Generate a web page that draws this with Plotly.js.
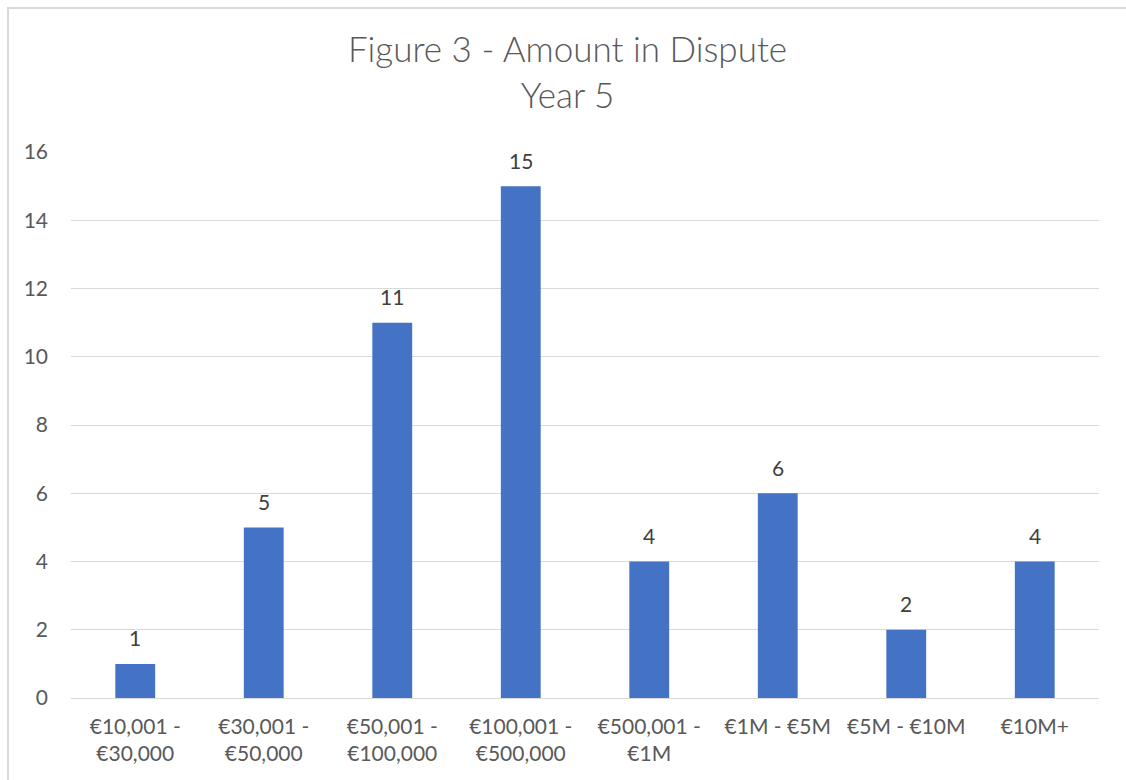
<!DOCTYPE html>
<html>
<head>
<meta charset="utf-8">
<script src="https://cdn.plot.ly/plotly-3.0.1.min.js"></script>
<style>
  html, body { margin: 0; padding: 0; width: 1126px; height: 780px; overflow: hidden; background: #fff; }
  #frame { position: absolute; left: 7px; top: 7px; width: 1140px; height: 800px;
           border-left: 2px solid #d9d9d9; border-top: 2px solid #d9d9d9; }
  #chart { position: absolute; left: 0; top: 0; width: 1126px; height: 780px; }
</style>
</head>
<body>
<div id="frame"></div>
<div id="chart"></div>
<script>
const categories = ['€10,001 -<br>€30,000', '€30,001 -<br>€50,000', '€50,001 -<br>€100,000',
                    '€100,001 -<br>€500,000', '€500,001 -<br>€1M', '€1M - €5M', '€5M - €10M', '€10M+'];
const counts = [1, 5, 11, 15, 4, 6, 2, 4];
const yTicks = [0, 2, 4, 6, 8, 10, 12, 14, 16];

const FONT = 'Lato, "Open Sans", sans-serif';

const trace = {
  type: 'bar',
  x: categories,
  y: counts,
  marker: { color: '#4472C4' },
  hoverinfo: 'x+y'
};

const annotations = categories.map((c, i) => ({
  x: c, y: counts[i], xref: 'x', yref: 'y',
  text: String(counts[i]), showarrow: false,
  yanchor: 'middle', yshift: 26,
  font: { family: FONT, size: 21, color: '#404040' }
}));

const layout = {
  width: 1126, height: 780,
  margin: { l: 71, r: 27, t: 152, b: 82 },
  paper_bgcolor: 'rgba(0,0,0,0)',
  plot_bgcolor: 'rgba(0,0,0,0)',
  bargap: 0.69,
  showlegend: false,
  title: {
    text: 'Figure 3 - Amount in Dispute<br>Year 5',
    x: 0.504, xanchor: 'center',
    y: 0.92, yanchor: 'middle',
    font: { family: FONT, size: 35, color: '#595959', weight: 300 }
  },
  xaxis: {
    type: 'category',
    showgrid: false, zeroline: false, showline: false,
    ticks: '', ticklabelstandoff: 14,
    tickfont: { family: FONT, size: 21, color: '#595959' }
  },
  yaxis: {
    range: [0, 16],
    tickvals: yTicks,
    ticktext: yTicks.map(String),
    showgrid: true, gridcolor: '#d9d9d9', gridwidth: 1.3,
    zeroline: true, zerolinecolor: '#d9d9d9', zerolinewidth: 1.3,
    showline: false, ticks: '',
    ticklabelstandoff: 22,
    tickfont: { family: FONT, size: 21, color: '#595959' }
  },
  annotations: annotations
};

Plotly.newPlot('chart', [trace], layout, { displayModeBar: false, staticPlot: false });
</script>
</body>
</html>
